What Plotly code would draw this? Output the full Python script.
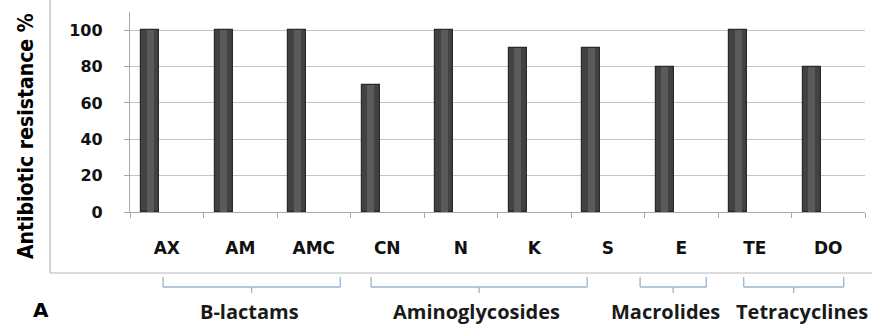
import plotly.graph_objects as go

antibiotics = ["AX", "AM", "AMC", "CN", "N", "K", "S", "E", "TE", "DO"]
resistance = [100, 100, 100, 70, 100, 90, 90, 80, 100, 80]
y_ticks = [0, 20, 40, 60, 80, 100]

groups = ["B-lactams", "Aminoglycosides", "Macrolides", "Tetracyclines"]
group_start = [-0.05, 2.78, 6.44, 7.85]
group_end = [2.36, 5.72, 7.34, 9.21]
group_label_x = [1.12, 4.22, 6.79, 8.64]

W, H = 872, 325
L, R, T, B = 130, 7, 12, 113

fig = go.Figure()
fig.add_trace(go.Bar(
    x=antibiotics, y=resistance,
    width=0.24, offset=-0.345,
    marker=dict(color="#424242", line=dict(color="#2a2a2a", width=1.2)),
    showlegend=False,
))
fig.add_trace(go.Bar(
    x=antibiotics, y=resistance,
    width=0.09, offset=-0.27,
    marker=dict(color="#5a5a5a", line=dict(width=0)),
    showlegend=False,
))

bracket_color = "#9bb3d6"
shapes = []
pw = W - L - R
ph = H - T - B

def py(pix):
    return (H - B - pix) / ph

def px(pix):
    return (pix - L) / pw

# chart frame (left and bottom edges)
shapes.append(dict(type="line", xref="paper", yref="paper",
                   x0=px(50), x1=px(50), y0=py(0), y1=py(273),
                   line=dict(color="#b8b8b8", width=1.2)))
shapes.append(dict(type="line", xref="paper", yref="paper",
                   x0=px(50), x1=px(W), y0=py(273), y1=py(273),
                   line=dict(color="#b8b8b8", width=1.2)))

annotations = []
for g, s, e, lx in zip(groups, group_start, group_end, group_label_x):
    c = (s + e) / 2
    for xa, xb, ya, yb in [(s, s, 277, 287), (e, e, 277, 287), (s, e, 287, 287), (c, c, 287, 293)]:
        shapes.append(dict(type="line", xref="x", yref="paper",
                           x0=xa, x1=xb, y0=py(ya), y1=py(yb),
                           line=dict(color=bracket_color, width=1.3)))
    annotations.append(dict(x=lx, y=py(311), xref="x", yref="paper", text=g,
                            showarrow=False, xanchor="center", yanchor="middle",
                            font=dict(family="Open Sans", size=20, color="#1a1a1a", weight="bold")))

annotations.append(dict(x=px(41), y=py(310), xref="paper", yref="paper", text="A",
                        showarrow=False, xanchor="center", yanchor="middle",
                        font=dict(family="DejaVu Sans", size=20, color="#000000", weight="bold")))

annotations.append(dict(x=px(26), y=py(136), xref="paper", yref="paper",
                        text="Antibiotic resistance %", textangle=-90,
                        showarrow=False, xanchor="center", yanchor="middle",
                        font=dict(family="DejaVu Sans Condensed, Liberation Sans Narrow, Liberation Sans",
                                  size=21, color="#000000", weight="bold")))

fig.update_layout(
    width=W, height=H,
    margin=dict(l=L, r=R, t=T, b=B),
    paper_bgcolor="white", plot_bgcolor="white",
    bargap=0,
    shapes=shapes,
    annotations=annotations,
    xaxis=dict(
        type="category", range=[-0.5, 9.5],
        showline=True, linecolor="#a8a8a8", linewidth=1.3,
        ticks="outside", tickson="boundaries", ticklen=5, tickcolor="#a8a8a8",
        showgrid=False,
        ticklabelstandoff=20,
        tickfont=dict(family="DejaVu Sans", size=17, color="#111111", weight="bold"),
    ),
    yaxis=dict(
        range=[0, 110], tickvals=y_ticks,
        showline=True, linecolor="#a8a8a8", linewidth=1.3,
        ticks="outside", ticklen=5, tickcolor="#a8a8a8",
        showgrid=True, gridcolor="#c4c4c4", gridwidth=1.2,
        zeroline=False,
        ticklabelstandoff=18,
        tickfont=dict(family="DejaVu Sans", size=16, color="#111111", weight="bold"),
    ),
)

fig.write_html("out.html", config={"displayModeBar": False},
               post_script="document.body.style.margin='0';")
